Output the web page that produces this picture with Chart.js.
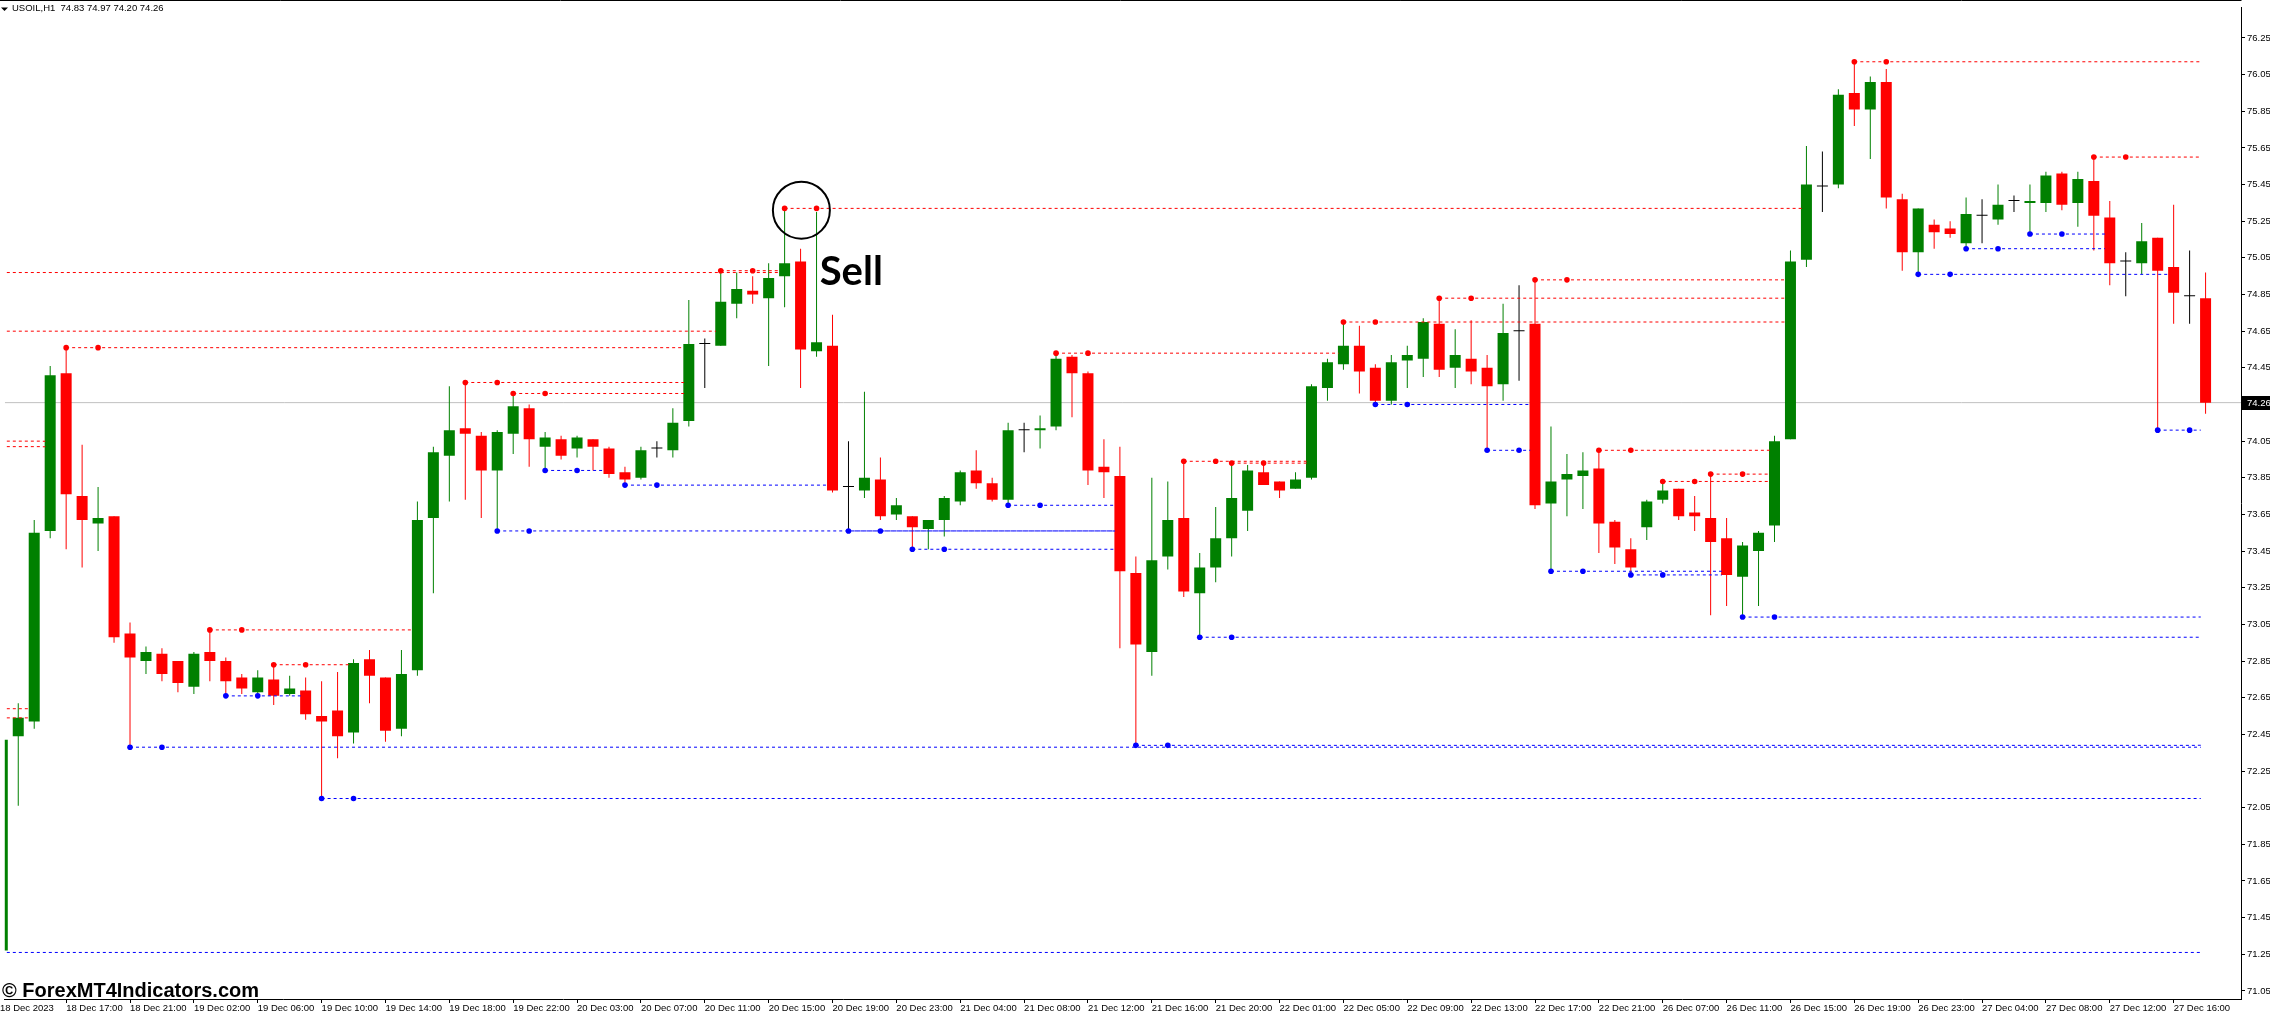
<!DOCTYPE html>
<html>
<head>
<meta charset="utf-8">
<title>USOIL,H1</title>
<script src="https://cdn.jsdelivr.net/npm/chart.js@4.4.1/dist/chart.umd.min.js"></script>
<style>
	html, body { margin: 0; padding: 0; background: #ffffff; overflow: hidden; }
	canvas { display: block; }
</style>
</head>
<body>
<canvas id="chart" width="2270" height="1025"></canvas>
<script>
"use strict";

// Quote header

var SYMBOL = "USOIL,H1",
	LAST_OHLC = "74.83 74.97 74.20 74.26",
	LAST_PRICE = 74.26;

// H1 candles, bar 0 is the one cut by the left edge

var opens = [
	71.27, 72.44, 72.52, 73.56, 74.42, 73.75, 73.60, 73.64, 73.00, 72.85,
	72.89, 72.85, 72.71, 72.90, 72.85, 72.76, 72.68, 72.75, 72.67, 72.69,
	72.55, 72.58, 72.46, 72.86, 72.76, 72.48, 72.80, 73.63, 73.97, 74.12,
	74.08, 73.89, 74.09, 74.23, 74.02, 74.06, 74.01, 74.06, 74.01, 73.88,
	73.85, 74.01, 74.00, 74.16, 74.58, 74.57, 74.80, 74.87, 74.83, 74.95,
	75.03, 74.54, 74.57, 73.80, 73.78, 73.84, 73.65, 73.64, 73.57, 73.62,
	73.72, 73.89, 73.82, 73.73, 74.11, 74.11, 74.13, 74.51, 74.42, 73.91,
	73.86, 73.33, 72.90, 73.42, 73.63, 73.22, 73.36, 73.52, 73.67, 73.88,
	73.83, 73.79, 73.85, 74.34, 74.47, 74.57, 74.45, 74.27, 74.49, 74.50,
	74.69, 74.45, 74.50, 74.45, 74.36, 74.65, 74.69, 73.71, 73.84, 73.86,
	73.90, 73.61, 73.46, 73.58, 73.73, 73.79, 73.66, 73.63, 73.52, 73.31,
	73.45, 73.59, 74.06, 75.04, 75.44, 75.45, 75.95, 75.86, 76.01, 75.37,
	75.08, 75.23, 75.21, 75.13, 75.28, 75.26, 75.36, 75.35, 75.35, 75.51,
	75.35, 75.47, 75.27, 75.03, 75.02, 75.16, 75.00, 74.84, 74.83
];
var highs = [
	72.45, 72.62, 73.62, 74.46, 74.56, 74.03, 73.80, 73.64, 73.06, 72.93,
	72.92, 72.85, 72.90, 73.02, 72.87, 72.78, 72.80, 72.83, 72.77, 72.76,
	72.74, 72.79, 72.86, 72.91, 72.76, 72.91, 73.72, 74.02, 74.35, 74.37,
	74.10, 74.11, 74.31, 74.25, 74.10, 74.08, 74.08, 74.06, 74.02, 73.91,
	74.02, 74.05, 74.23, 74.82, 74.61, 74.98, 74.97, 74.95, 75.02, 75.32,
	75.10, 75.30, 74.74, 74.05, 74.32, 73.96, 73.74, 73.64, 73.62, 73.75,
	73.89, 74.00, 73.85, 74.15, 74.15, 74.19, 74.53, 74.52, 74.43, 74.06,
	74.02, 73.42, 73.85, 73.83, 73.94, 73.44, 73.69, 73.93, 73.92, 73.93,
	73.83, 73.88, 74.36, 74.50, 74.70, 74.68, 74.47, 74.52, 74.57, 74.72,
	74.83, 74.66, 74.71, 74.52, 74.80, 74.90, 74.93, 74.13, 73.98, 73.99,
	74.00, 73.62, 73.52, 73.73, 73.83, 73.79, 73.75, 73.87, 73.63, 73.50,
	73.56, 74.08, 75.09, 75.66, 75.63, 75.97, 76.12, 76.04, 76.08, 75.40,
	75.32, 75.26, 75.25, 75.38, 75.37, 75.45, 75.39, 75.45, 75.52, 75.52,
	75.52, 75.60, 75.36, 75.08, 75.24, 75.16, 75.34, 75.09, 74.97
];
var lows = [
	71.26, 72.06, 72.48, 73.52, 73.46, 73.36, 73.45, 72.95, 72.38, 72.78,
	72.74, 72.68, 72.67, 72.74, 72.66, 72.67, 72.65, 72.61, 72.66, 72.53,
	72.10, 72.32, 72.40, 72.62, 72.41, 72.44, 72.77, 73.22, 73.72, 73.73,
	73.63, 73.56, 73.98, 73.91, 73.89, 73.95, 73.96, 73.89, 73.85, 73.81,
	73.84, 73.96, 73.96, 74.13, 74.34, 74.57, 74.72, 74.80, 74.46, 74.78,
	74.34, 74.51, 73.77, 73.56, 73.74, 73.62, 73.62, 73.46, 73.46, 73.53,
	73.70, 73.79, 73.72, 73.69, 73.99, 74.01, 74.11, 74.18, 73.81, 73.74,
	72.92, 72.39, 72.77, 73.35, 73.20, 72.98, 73.28, 73.42, 73.56, 73.81,
	73.74, 73.79, 73.84, 74.27, 74.44, 74.31, 74.25, 74.25, 74.34, 74.40,
	74.40, 74.34, 74.36, 74.00, 74.27, 74.38, 73.68, 73.34, 73.64, 73.68,
	73.44, 73.38, 73.32, 73.51, 73.71, 73.62, 73.56, 73.10, 73.15, 73.09,
	73.15, 73.50, 74.06, 75.00, 75.30, 75.43, 75.77, 75.59, 75.32, 74.98,
	74.96, 75.10, 75.16, 75.10, 75.13, 75.23, 75.30, 75.18, 75.30, 75.31,
	75.22, 75.09, 74.90, 74.84, 74.96, 74.11, 74.69, 74.69, 74.20
];
var closes = [
	72.42, 72.54, 73.55, 74.41, 73.76, 73.62, 73.63, 72.98, 72.87, 72.90,
	72.78, 72.73, 72.89, 72.85, 72.74, 72.70, 72.76, 72.66, 72.70, 72.56,
	72.52, 72.44, 72.84, 72.77, 72.47, 72.78, 73.62, 73.99, 74.11, 74.09,
	73.89, 74.10, 74.24, 74.06, 74.07, 73.97, 74.07, 74.02, 73.87, 73.84,
	74.00, 74.01, 74.15, 74.58, 74.58, 74.81, 74.88, 74.85, 74.94, 75.02,
	74.55, 74.59, 73.78, 73.80, 73.85, 73.64, 73.70, 73.58, 73.62, 73.74,
	73.88, 73.82, 73.73, 74.11, 74.11, 74.12, 74.50, 74.42, 73.89, 73.88,
	73.34, 72.94, 73.40, 73.62, 73.23, 73.36, 73.52, 73.74, 73.89, 73.81,
	73.78, 73.84, 74.35, 74.48, 74.57, 74.43, 74.27, 74.48, 74.52, 74.70,
	74.44, 74.52, 74.43, 74.35, 74.64, 74.65, 73.70, 73.83, 73.87, 73.89,
	73.60, 73.47, 73.36, 73.72, 73.78, 73.64, 73.64, 73.50, 73.32, 73.48,
	73.55, 74.05, 75.03, 75.45, 75.44, 75.94, 75.86, 76.01, 75.38, 75.08,
	75.32, 75.19, 75.18, 75.29, 75.28, 75.34, 75.36, 75.36, 75.50, 75.34,
	75.48, 75.28, 75.02, 75.03, 75.14, 74.98, 74.86, 74.84, 74.26
];

// Time labels, one every 4 bars starting at bar 0

var timeLabels = [
	"18 Dec 2023", "18 Dec 17:00", "18 Dec 21:00", "19 Dec 02:00", "19 Dec 06:00",
	"19 Dec 10:00", "19 Dec 14:00", "19 Dec 18:00", "19 Dec 22:00", "20 Dec 03:00",
	"20 Dec 07:00", "20 Dec 11:00", "20 Dec 15:00", "20 Dec 19:00", "20 Dec 23:00",
	"21 Dec 04:00", "21 Dec 08:00", "21 Dec 12:00", "21 Dec 16:00", "21 Dec 20:00",
	"22 Dec 01:00", "22 Dec 05:00", "22 Dec 09:00", "22 Dec 13:00", "22 Dec 17:00",
	"22 Dec 21:00", "26 Dec 07:00", "26 Dec 11:00", "26 Dec 15:00", "26 Dec 19:00",
	"26 Dec 23:00", "27 Dec 04:00", "27 Dec 08:00", "27 Dec 12:00", "27 Dec 16:00"
];

// Price scale labels

var priceTicks = [
	71.05, 71.25, 71.45, 71.65, 71.85, 72.05, 72.25, 72.45, 72.65,
	72.85, 73.05, 73.25, 73.45, 73.65, 73.85, 74.05, 74.25, 74.45,
	74.65, 74.85, 75.05, 75.25, 75.45, 75.65, 75.85, 76.05, 76.25
];

// Fractal levels: price, bar of the fractal (-1 = before the window), bar whose close broke it

var resPrice = [74.97, 74.65, 74.05, 74.02, 72.59, 72.54, 74.56, 73.02, 72.83, 74.37, 74.31, 74.98,
	75.32, 74.53, 73.94, 73.93, 74.70, 74.83, 74.93, 74.00, 73.83, 73.87, 76.12, 75.60],
	resFrom = [-1, -1, -1, -1, -1, -1, 4, 13, 17, 29, 32, 45,
	49, 66, 74, 77, 84, 90, 96, 100, 104, 107, 116, 131],
	resTo = [49, 45, 3, 3, 2, 2, 43, 26, 22, 43, 43, 49,
	113, 84, 82, 82, 112, 112, 112, 111, 111, 111, 138, 138];

var supPrice = [71.26, 72.38, 72.66, 72.10, 73.56, 73.89, 73.81, 73.56, 73.46, 73.70, 72.39,
	72.98, 74.25, 74.00, 73.34, 73.32, 73.09, 74.96, 75.10, 75.18, 74.11],
	supFrom = [-1, 8, 14, 20, 31, 34, 39, 53, 57, 63, 71,
	75, 86, 93, 97, 102, 109, 120, 123, 127, 135],
	supTo = [138, 138, 19, 138, 70, 38, 52, 70, 70, 70, 138,
	138, 96, 96, 108, 108, 138, 136, 132, 132, 138];

// Signal mark

var SIGNAL_TEXT = "Sell",
	SIGNAL_BAR = 50.05, SIGNAL_PRICE = 75.31,
	LABEL_BAR = 51.2, LABEL_PRICE = 74.90,
	WATERMARK = "\u00a9 ForexMT4Indicators.com";

// Styles

var BULL_COLOR = "#008000",
	BEAR_COLOR = "#ff0000",
	DOJI_COLOR = "#000000",
	RES_COLOR = "#ff0000",
	SUP_COLOR = "#0000ff",
	LAST_COLOR = "#c0c0c0",
	AXIS_FONT = "'Liberation Sans', Arial, sans-serif";

var X_MIN = 0.15625, X_MAX = 140.21875,
	Y_MIN = 71.006, Y_MAX = 76.415;

// Functions

function candleColor(i) {
	if (closes[i] > opens[i]) {
		return BULL_COLOR;
	}
	if (closes[i] < opens[i]) {
		return BEAR_COLOR;
	}
	return DOJI_COLOR;
}

// one dashed line per level, ended just before the breaking bar
function levelDatasets(prices, from, to, color) {
	return prices.map(function (p, k) {
		return {
			type: "line",
			data: [{ x: Math.max(from[k], X_MIN - 1), y: p }, { x: to[k] - 0.3, y: p }],
			borderColor: color,
			borderWidth: 1,
			borderDash: [3, 3],
			pointRadius: 0,
			tension: 0,
			order: 1
		};
	});
}

// fractal dot plus its confirmation dot two bars later
function levelDots(prices, from) {
	var points = [];

	for (var k in prices) {
		if (from[k] >= 0) {
			points.push({ x: from[k], y: prices[k] });
			points.push({ x: from[k] + 2, y: prices[k] });
		}
	}
	return points;
}

var bars = opens.map(function (o, i) { return i; }),
	colors = bars.map(candleColor);

var datasets = [
	{
		type: "scatter",
		data: levelDots(resPrice, resFrom),
		backgroundColor: RES_COLOR,
		borderWidth: 0,
		pointRadius: 2.8,
		order: 0
	},
	{
		type: "scatter",
		data: levelDots(supPrice, supFrom),
		backgroundColor: SUP_COLOR,
		borderWidth: 0,
		pointRadius: 2.8,
		order: 0
	}
].concat(levelDatasets(resPrice, resFrom, resTo, RES_COLOR),
	levelDatasets(supPrice, supFrom, supTo, SUP_COLOR), [
	{
		type: "bar",
		data: bars.map(function (i) { return { x: i, y: [opens[i], closes[i]] }; }),
		backgroundColor: colors,
		barThickness: 11,
		barPercentage: 1,
		categoryPercentage: 1,
		minBarLength: 1,
		grouped: false,
		inflateAmount: 0,
		order: 2
	},
	{
		type: "bar",
		data: bars.map(function (i) { return { x: i, y: [lows[i], highs[i]] }; }),
		backgroundColor: colors,
		barThickness: 1,
		barPercentage: 1,
		categoryPercentage: 1,
		grouped: false,
		inflateAmount: 0,
		order: 3
	},
	{
		type: "line",
		data: [{ x: X_MIN, y: LAST_PRICE }, { x: X_MAX, y: LAST_PRICE }],
		borderColor: LAST_COLOR,
		borderWidth: 1,
		pointRadius: 0,
		order: 4
	}
]);

// header, frame, price tag, signal and watermark
var overlayPlugin = {
	id: "overlay",
	afterDraw: function (chart) {
		var ctx = chart.ctx, area = chart.chartArea,
			xs = chart.scales.x, ys = chart.scales.y,
			py = ys.getPixelForValue(LAST_PRICE);

		ctx.save();
		ctx.strokeStyle = "#000000";
		ctx.lineWidth = 1;
		ctx.beginPath();
		ctx.moveTo(0, 0.5);
		ctx.lineTo(area.right + 0.5, 0.5);
		ctx.stroke();

		ctx.fillStyle = "#000000";
		ctx.beginPath();
		ctx.moveTo(1, 7.5);
		ctx.lineTo(8, 7.5);
		ctx.lineTo(4.5, 11);
		ctx.closePath();
		ctx.fill();
		ctx.font = "9.5px " + AXIS_FONT;
		ctx.textBaseline = "middle";
		ctx.textAlign = "left";
		ctx.fillText(SYMBOL + "  " + LAST_OHLC, 12, 8.5);

		ctx.fillRect(area.right + 1, Math.round(py) - 7, chart.width - area.right - 1, 14);
		ctx.fillStyle = "#ffffff";
		ctx.fillText(LAST_PRICE.toFixed(2), area.right + 6, Math.round(py));

		ctx.strokeStyle = "#000000";
		ctx.lineWidth = 2;
		ctx.beginPath();
		ctx.arc(xs.getPixelForValue(SIGNAL_BAR), ys.getPixelForValue(SIGNAL_PRICE), 28.5, 0, 2 * Math.PI);
		ctx.stroke();

		ctx.fillStyle = "#000000";
		ctx.textBaseline = "alphabetic";
		ctx.font = "bold 40px Lato, 'Liberation Sans', sans-serif";
		ctx.fillText(SIGNAL_TEXT, xs.getPixelForValue(LABEL_BAR), ys.getPixelForValue(LABEL_PRICE));

		ctx.font = "bold 20px 'Liberation Sans', Arial, sans-serif";
		ctx.fillText(WATERMARK, 2, 997);
		ctx.restore();
	}
};

new Chart(document.getElementById("chart"), {
	type: "bar",
	data: { datasets: datasets },
	plugins: [overlayPlugin],
	options: {
		responsive: false,
		animation: false,
		devicePixelRatio: 1,
		events: [],
		layout: { padding: { top: 1, left: 0, right: 0, bottom: 0 } },
		plugins: {
			legend: { display: false },
			tooltip: { enabled: false },
			title: { display: false }
		},
		scales: {
			x: {
				type: "linear",
				min: X_MIN,
				max: X_MAX,
				offset: false,
				// the first date sits under the left edge, as in the terminal
				afterBuildTicks: function (scale) {
					scale.ticks = timeLabels.map(function (t, k) {
						return { value: k === 0 ? X_MIN - 0.3 : k * 4 };
					});
				},
				afterFit: function (scale) { scale.height = 26; },
				grid: { drawOnChartArea: false, drawTicks: true, tickLength: 4, color: "#000000", offset: false },
				border: { display: true, color: "#000000", width: 1 },
				ticks: {
					autoSkip: false,
					maxRotation: 0,
					minRotation: 0,
					align: "start",
					padding: 0,
					color: "#000000",
					font: { family: AXIS_FONT, size: 9.5 },
					callback: function (value) { return timeLabels[Math.max(0, Math.round(value / 4))]; }
				}
			},
			y: {
				type: "linear",
				position: "right",
				min: Y_MIN,
				max: Y_MAX,
				afterBuildTicks: function (scale) {
					scale.ticks = priceTicks.map(function (v) { return { value: v }; });
				},
				afterFit: function (scale) { scale.width = 29; },
				grid: { drawOnChartArea: false, drawTicks: true, tickLength: 4, color: "#000000" },
				border: { display: true, color: "#000000", width: 1 },
				ticks: {
					autoSkip: false,
					padding: 2,
					color: "#000000",
					font: { family: AXIS_FONT, size: 9.5 },
					callback: function (value) { return Number(value).toFixed(2); }
				}
			}
		}
	}
});
</script>
</body>
</html>
